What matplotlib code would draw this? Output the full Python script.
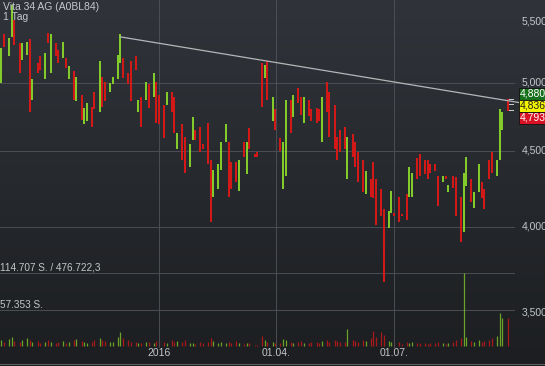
import matplotlib
matplotlib.use("Agg")
import matplotlib.pyplot as plt
import matplotlib.dates as mdates
import matplotlib.transforms as mtransforms
from matplotlib.colors import LinearSegmentedColormap
from matplotlib.lines import Line2D
import numpy as np
import pandas as pd

title = "Vita 34 AG (A0BL84)"
interval = "1 Tag"

# daily bars (every second trading day), high / low and up(G) / down(R)
highs = [
    5.28, 5.39, 5.36, 5.64, 5.51, 5.32, 5.32, 5.33, 5.35, 5.03,
    5.16, 5.21, 5.24, 5.40, 5.39, 5.32, 5.26, 5.33, 5.20, 5.13,
    5.09, 5.05, 4.91, 4.81, 4.85, 4.82, 4.93, 5.17, 5.05, 5.01,
    5.00, 5.05, 5.22, 5.39, 5.20, 5.08, 5.17, 5.21, 4.87, 4.89,
    5.01, 4.99, 5.08, 5.01, 4.91, 4.83, 4.93, 4.93, 4.89, 4.63,
    4.69, 4.60, 4.55, 4.74, 4.65, 4.67, 4.55, 4.70, 4.44, 4.37,
    4.41, 4.56, 4.69, 4.56, 4.42, 4.42, 4.44, 4.56, 4.56, 4.66,
    4.48, 4.49, 5.16, 5.14, 5.17, 4.89, 4.80, 4.59, 4.56, 4.87,
    4.87, 4.91, 4.96, 4.89, 4.89, 4.87, 4.80, 4.81, 4.80, 4.89,
    5.01, 4.93, 4.83, 4.60, 4.65, 4.67, 4.60, 4.62, 4.56, 4.49,
    4.44, 4.36, 4.31, 4.42, 4.31, 4.24, 4.11, 4.10, 4.23, 4.09,
    4.19, 4.08, 4.21, 4.39, 4.35, 4.45, 4.48, 4.44, 4.44, 4.41,
    4.41, 4.33, 4.33, 4.33, 4.27, 4.33, 4.32, 4.19, 4.35, 4.46,
    4.31, 4.22, 4.41, 4.29, 4.24, 4.44, 4.49, 4.44, 4.80, 4.78,
    4.88,
]
lows = [
    5.00, 5.29, 5.21, 5.37, 5.30, 5.08, 5.18, 5.22, 4.78, 4.87,
    5.08, 5.10, 5.03, 5.32, 5.08, 5.21, 5.16, 5.20, 5.12, 5.03,
    4.87, 4.86, 4.72, 4.69, 4.71, 4.67, 4.80, 4.78, 4.82, 4.86,
    4.93, 4.99, 5.03, 5.16, 5.04, 4.99, 4.86, 5.10, 4.78, 4.67,
    4.87, 4.81, 4.89, 4.70, 4.69, 4.59, 4.83, 4.78, 4.63, 4.51,
    4.44, 4.35, 4.39, 4.58, 4.58, 4.49, 4.51, 4.41, 4.03, 4.19,
    4.24, 4.37, 4.56, 4.19, 4.24, 4.29, 4.23, 4.46, 4.34, 4.51,
    4.46, 4.46, 4.82, 5.04, 4.87, 4.71, 4.65, 4.50, 4.24, 4.33,
    4.63, 4.74, 4.85, 4.76, 4.70, 4.75, 4.71, 4.70, 4.71, 4.56,
    4.78, 4.60, 4.51, 4.44, 4.49, 4.51, 4.31, 4.46, 4.39, 4.29,
    4.22, 4.21, 4.19, 4.18, 4.01, 4.07, 3.67, 3.99, 4.09, 4.07,
    4.03, 4.07, 4.04, 4.19, 4.19, 4.31, 4.33, 4.34, 4.31, 4.35,
    4.36, 4.13, 4.29, 4.31, 4.22, 4.25, 4.07, 3.91, 3.97, 4.26,
    4.16, 4.12, 4.22, 4.18, 4.11, 4.31, 4.35, 4.33, 4.44, 4.65,
    4.79,
]
direction = (
    "GRGGRRGGRG" "RRGRGRRGRG" "RGRGGRRGRR" "GGGGRRRRGR" "GRGRRRGRRG"
    "RRGGRRRRRG" "GGGRRRGRGR" "RRRGRGRRGG" "RGRRGRRRRG" "RRRRRRGRRR"
    "RGRRRRRGGR" "RRRGGRRRRR" "RRGRGRRRGG" "RGGRRRRGGG" "R"
)
volumes = [
    9000, 6000, 11000, 14000, 8000, 7000, 10000, 12000, 9000, 6000,
    8000, 5000, 7000, 9000, 6000, 4000, 6000, 8000, 5000, 7000,
    9000, 11000, 8000, 6000, 5000, 7000, 9000, 12000, 10000, 8000,
    6000, 7000, 14000, 22000, 12000, 9000, 7000, 6000, 5000, 4000,
    6000, 7000, 5000, 8000, 10000, 6000, 5000, 9000, 7000, 8000,
    6000, 9000, 5000, 4000, 3000, 6000, 4000, 7000, 12000, 8000,
    5000, 6000, 4000, 7000, 5000, 8000, 4000, 3000, 5000, 4000,
    2000, 2000, 16000, 9000, 7000, 6000, 4000, 5000, 11000, 10000,
    7000, 5000, 6000, 8000, 4000, 5000, 6000, 7000, 5000, 8000,
    10000, 7000, 9000, 8000, 6000, 7000, 27000, 9000, 8000, 7000,
    10000, 8000, 12000, 24000, 14000, 22000, 18000, 8000, 7000, 3000,
    6000, 3000, 7000, 5000, 6000, 4000, 5000, 4000, 3000, 5000,
    4000, 6000, 4000, 3000, 5000, 7000, 9000, 12000, 114000, 14000,
    8000, 7000, 9000, 6000, 8000, 10000, 12000, 16000, 52000, 44000,
    44000,
]

last_values = [4.880, 4.836, 4.793]
last_colors = [("#17701c", "white"), ("#f4f400", "#202020"), ("#d81225", "white")]
price_ticks = [5.5, 5.0, 4.5, 4.0, 3.5]
price_grid = [5.0, 4.5, 4.0]
volume_grid = [57353, 114707]
volume_labels = ["57.353 S.", "114.707 S. / 476.722,3"]
date_ticks = ["2016-01-01", "2016-04-01", "2016-07-01"]
date_labels = ["2016", "01.04.", "01.07."]
trend_dates = ["2015-12-02", "2016-10-06"]
trend_prices = [5.37, 4.85]

dates = pd.bdate_range("2015-09-01", periods=2 * len(highs))[::2]
x = mdates.date2num(dates.to_pydatetime())

GREEN = "#86d02a"
RED = "#d81818"
GRID = "#4b4f54"
TEXT = "#c4c7ca"
FONT = "Liberation Sans"

W, H = 545, 366
fig = plt.figure(figsize=(W / 100, H / 100), dpi=100)

# background gradient
bg = fig.add_axes([0, 0, 1, 1], label="bg")
cmap = LinearSegmentedColormap.from_list("bg", ["#30343a", "#1c1e21"])
bg.imshow(np.linspace(0, 1, 256)[:, None], aspect="auto", cmap=cmap,
          extent=[0, 1, 0, 1])
bg.axis("off")

# volume panel
vax = fig.add_axes([0, 0, 1, 1], label="vol")
vax.patch.set_alpha(0)
base_frac = (H - 346) / H
top_frac = (H - 273) / H
vscale = volume_grid[1] / (top_frac - base_frac)
vax.set_ylim(-base_frac * vscale, (1 - base_frac) * vscale)

# price panel (log scale)
ax = fig.add_axes([0, 0, 1, 1], label="price")
ax.patch.set_alpha(0)
ax.set_yscale("log")
top_price = 5.686
ax.set_ylim(top_price * np.exp(-H / 645), top_price)

px_per_day = 1.291
jan1 = mdates.date2num(pd.Timestamp("2016-01-01").to_pydatetime())
left = jan1 - 159 / px_per_day
for a in (ax, vax):
    a.set_xlim(left, left + W / px_per_day)
    a.tick_params(which="both", left=False, bottom=False,
                  labelleft=False, labelbottom=False)
    for s in a.spines.values():
        s.set_visible(False)

gx = 514 / W
for p in price_grid:
    ax.axhline(p, xmax=gx, color=GRID, lw=0.7, zorder=0)
for v in volume_grid:
    vax.axhline(v, xmax=gx, color=GRID, lw=0.7, zorder=0)
for d in date_ticks:
    ax.axvline(mdates.date2num(pd.Timestamp(d).to_pydatetime()),
               ymin=(H - 347) / H, color=GRID, lw=0.7, zorder=0)

colors = [GREEN if c == "G" else RED for c in direction]
vax.vlines(x, 0, volumes, colors=colors, lw=0.9, alpha=0.75)
ax.vlines(x, lows, highs, colors=colors, lw=1.4, zorder=3)

ax.plot(mdates.date2num(pd.to_datetime(trend_dates).to_pydatetime()),
        trend_prices, color="#b4b6b9", lw=0.9, zorder=4)

# small last-price markers
for v in last_values:
    ax.axhline(v, xmin=507 / W, xmax=513 / W, color="#d0d0d0", lw=0.7)

tr = mtransforms.blended_transform_factory(ax.transAxes, ax.transData)
for p in price_ticks:
    ax.text(522 / W, p, f"{p:.3f}".replace(".", ","), transform=tr,
            ha="left", va="center", color=TEXT, fontsize=7.5, family=FONT)

for i, (v, (fc, tc)) in enumerate(zip(last_values, last_colors)):
    fig.text(520 / W, 1 - (94 + 12 * i) / H, f"{v:.3f}".replace(".", ","),
             ha="left", va="center", color=tc, fontsize=7.5, family=FONT,
             bbox=dict(boxstyle="square,pad=0.12", fc=fc, ec="#111111", lw=0.6))

vtr = mtransforms.blended_transform_factory(vax.transAxes, vax.transData)
for v, lab in zip(volume_grid, volume_labels):
    vax.text(0, v, lab, transform=vtr, ha="left", va="bottom",
             color=TEXT, fontsize=7.2, family=FONT)

xtr = mtransforms.blended_transform_factory(ax.transData, fig.transFigure)
for d, lab in zip(date_ticks, date_labels):
    ax.text(mdates.date2num(pd.Timestamp(d).to_pydatetime()), 1 - 353 / H, lab,
            transform=xtr, ha="center", va="center", color=TEXT,
            fontsize=7.5, family=FONT)

fig.text(3 / W, 1 - 7 / H, title, ha="left", va="center", color=TEXT,
         fontsize=7.5, family=FONT)
fig.text(3 / W, 1 - 17 / H, interval, ha="left", va="center", color=TEXT,
         fontsize=7.5, family=FONT)

fig.add_artist(Line2D([0, 1], [2 / H, 2 / H], color="#5a5e63", lw=0.8))

fig.savefig("out.png", dpi=100)
